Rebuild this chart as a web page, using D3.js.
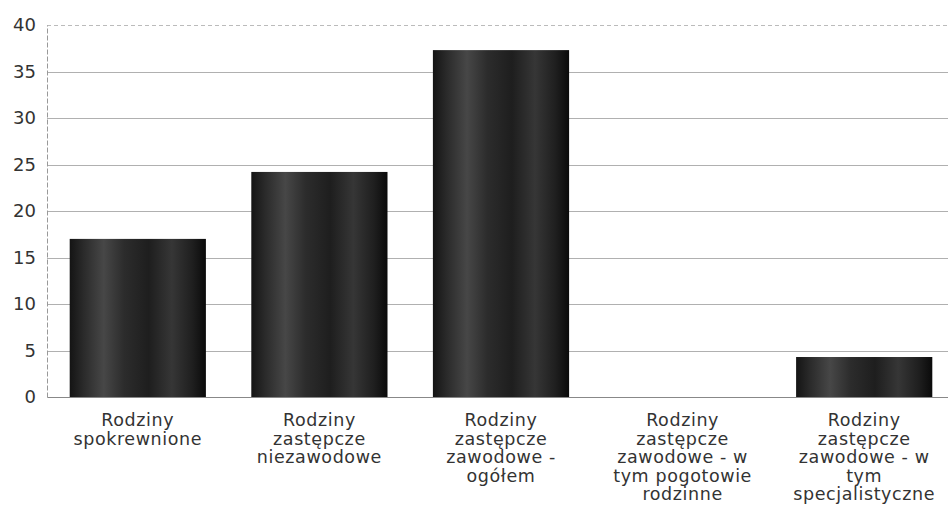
<!DOCTYPE html>
<html><head><meta charset="utf-8">
<script src="https://cdn.jsdelivr.net/npm/d3@7"></script>
<style>body{margin:0;background:#fff}svg{display:block}</style>
</head><body>
<svg id="c" width="948" height="508"></svg>
<script>
const categories = [
  "Rodziny\nspokrewnione",
  "Rodziny\nzastępcze\nniezawodowe",
  "Rodziny\nzastępcze\nzawodowe -\nogółem",
  "Rodziny\nzastępcze\nzawodowe - w\ntym pogotowie\nrodzinne",
  "Rodziny\nzastępcze\nzawodowe - w\ntym\nspecjalistyczne"
];
const values = [17.0, 24.2, 37.3, 0, 4.3];
const yTicks = [0, 5, 10, 15, 20, 25, 30, 35, 40];

const svg = d3.select("#c");
const m = {left: 47, right: 0, top: 25, bottom: 111};
const W = 948, H = 508;
const x = d3.scaleBand().domain(categories).range([m.left, 955]).paddingInner(0.25).paddingOuter(0.125);
const y = d3.scaleLinear().domain([0, 40]).range([H - m.bottom, m.top]);

const defs = svg.append("defs");
const g = defs.append("linearGradient").attr("id", "bg").attr("x1", "0").attr("x2", "1").attr("y1", "0").attr("y2", "0");
[[0, "#141414"], [0.1, "#2a2a2a"], [0.25, "#474747"], [0.4, "#2c2c2c"], [0.58, "#1e1e1e"], [0.75, "#363636"], [0.9, "#1f1f1f"], [1, "#0a0a0a"]]
  .forEach(([o, c]) => g.append("stop").attr("offset", o).attr("stop-color", c));

// gridlines
svg.append("g").selectAll("line").data(yTicks.filter(d => d > 0)).join("line")
  .attr("x1", m.left).attr("x2", W)
  .attr("y1", d => Math.round(y(d)) + 0.5).attr("y2", d => Math.round(y(d)) + 0.5)
  .attr("stroke", d => d === 40 ? "#bbb" : "#b0b0b0")
  .attr("stroke-dasharray", d => d === 40 ? "4,3" : null)
  .attr("stroke-width", 1);

// y axis
const ya = svg.append("g").attr("transform", `translate(${m.left},0)`)
  .call(d3.axisLeft(y).tickValues(yTicks).tickSize(0).tickPadding(11));
ya.select(".domain").attr("stroke", "#999").attr("stroke-dasharray", "5,2");
ya.selectAll("text").attr("font-family", "DejaVu Sans, sans-serif").attr("font-size", 18).attr("fill", "#333");

// bars
svg.append("g").selectAll("rect").data(values).join("rect")
  .attr("x", (d, i) => x(categories[i]))
  .attr("width", x.bandwidth())
  .attr("y", d => y(d))
  .attr("height", d => y(0) - y(d))
  .attr("fill", "url(#bg)");

// x axis
const xa = svg.append("g").attr("transform", `translate(0,${y(0)})`)
  .call(d3.axisBottom(x).tickSize(0).tickFormat(""));
xa.select(".domain").attr("stroke", "#888");
xa.selectAll("text").remove();

// category labels
const lab = svg.append("g").selectAll("text").data(categories).join("text")
  .attr("x", d => x(d) + x.bandwidth() / 2)
  .attr("y", y(0) + 29)
  .attr("text-anchor", "middle")
  .attr("font-family", "DejaVu Sans, sans-serif").attr("font-size", 17.5)
  .attr("letter-spacing", 0.6).attr("fill", "#333");
lab.each(function(d) {
  d3.select(this).selectAll("tspan").data(d.split("\n")).join("tspan")
    .attr("x", x(d) + x.bandwidth() / 2)
    .attr("dy", (t, i) => i === 0 ? 0 : 18.5)
    .text(t => t);
});
</script>
</body></html>
